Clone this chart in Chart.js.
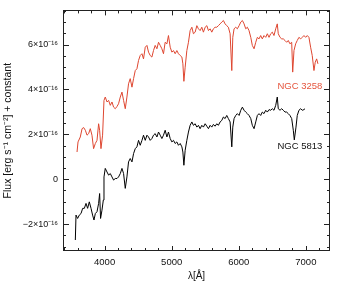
<!DOCTYPE html>
<html>
<head>
<meta charset="utf-8">
<script src="https://cdn.jsdelivr.net/npm/chart.js@4.4.1/dist/chart.umd.min.js"></script>
<style>
  html, body { margin: 0; padding: 0; background: #fff; }
  #wrap { width: 338px; height: 282px; }
</style>
</head>
<body>
<div id="wrap"><canvas id="specChart" width="338" height="282"></canvas></div>
<script>
// wavelengths in Angstrom, flux in units of 1e-16 erg/s/cm2/A (+ constant)
var lamRed = [3589,3604,3638,3664,3688,3713,3738,3762,3787,3812,3836,3862,3887,3911,3926,3946,3970,3991,
  4010,4036,4060,4085,4110,4134,4159,4185,4208,4234,4259,4283,4308,4333,4357,4382,4408,4432,4457,4482,
  4506,4531,4557,4580,4606,4631,4655,4680,4705,4729,4754,4780,4804,4829,4854,4878,4903,4929,4952,4978,
  5003,5027,5052,5077,5101,5127,5152,5167,5182,5201,5226,5250,5275,5301,5324,5350,5375,5399,5424,5449,
  5473,5499,5524,5548,5573,5598,5622,5647,5673,5696,5722,5747,5771,5796,5821,5845,5871,5896,5911,5930,
  5955,5979,6005,6030,6054,6079,6104,6128,6153,6179,6202,6228,6253,6277,6302,6327,6351,6376,6402,6426,
  6451,6476,6500,6525,6551,6574,6589,6615,6640,6664,6689,6714,6738,6763,6789,6804,6823,6848,6872,6897,
  6923,6946,6972,6997,7021,7046,7071,7095,7121,7140,7161,7180];
var fluxRed = [1.21,1.66,1.88,2.25,2.30,2.18,1.96,2.03,2.25,1.96,1.36,1.59,1.73,2.47,2.18,1.36,1.96,3.51,
  3.66,3.44,3.51,3.29,3.44,3.21,3.14,3.24,3.36,3.66,3.88,3.51,3.14,3.66,4.25,4.48,4.10,4.48,4.84,4.92,
  5.29,5.51,5.59,5.36,5.88,5.96,5.66,5.51,5.44,5.73,5.96,5.81,6.10,5.96,5.81,5.59,6.10,6.03,6.40,5.88,
  5.66,5.73,5.59,5.73,5.59,5.51,5.44,5.14,4.36,4.99,5.73,6.10,6.62,6.77,6.48,6.55,6.84,6.70,6.62,6.77,
  6.55,6.77,6.84,6.62,6.70,6.55,6.70,6.77,6.77,6.84,6.92,7.00,7.07,6.92,6.84,6.77,6.48,4.84,6.32,6.70,
  6.77,6.70,6.84,7.00,7.07,6.92,6.70,6.77,6.62,6.32,5.96,5.81,6.10,6.32,6.25,6.40,6.25,6.40,6.32,6.48,
  6.32,6.48,6.55,6.40,6.70,6.92,6.48,6.32,6.25,6.25,6.18,6.10,6.18,6.03,6.10,4.77,5.73,6.03,6.18,6.32,
  6.25,6.32,6.40,6.32,6.40,6.32,5.88,5.51,4.84,5.21,5.36,5.14];

var lamBlack = [3564,3574,3598,3623,3649,3673,3698,3723,3747,3772,3798,3821,3842,3862,3887,3911,3926,3940,
  3961,3981,3991,4010,4036,4060,4085,4110,4134,4159,4185,4208,4234,4259,4283,4308,4333,4357,4382,4408,
  4432,4457,4482,4506,4531,4557,4580,4606,4631,4655,4680,4705,4729,4754,4780,4804,4829,4854,4878,4903,
  4929,4952,4978,5003,5027,5052,5077,5101,5127,5152,5167,5182,5201,5226,5250,5275,5301,5324,5350,5375,
  5399,5424,5449,5473,5499,5524,5548,5573,5598,5622,5647,5673,5696,5722,5747,5771,5796,5821,5845,5871,
  5896,5911,5930,5955,5979,6005,6030,6054,6079,6104,6128,6153,6179,6202,6228,6253,6277,6302,6327,6351,
  6376,6402,6426,6451,6476,6500,6525,6551,6574,6589,6615,6640,6664,6689,6714,6738,6763,6789,6813,6828,
  6853,6872,6897,6923,6946,6972,6987];
var fluxBlack = [-2.71,-1.60,-1.75,-1.60,-1.53,-1.30,-1.30,-1.08,-1.30,-1.01,-1.30,-1.60,-1.82,-1.53,-1.45,
  -1.08,-0.64,-1.75,-1.38,-0.93,0.10,0.48,0.32,0.18,0.25,0.10,-0.04,0.03,0.03,0.10,0.25,0.48,0.25,-0.41,
  0.10,0.77,0.92,0.77,1.14,1.36,1.44,1.73,1.51,1.73,1.96,1.73,1.96,1.88,1.73,1.81,1.96,2.03,1.88,2.10,
  1.96,1.81,1.96,2.18,1.88,2.10,1.81,1.66,1.73,1.59,1.66,1.51,1.59,1.44,1.21,0.62,1.29,1.73,2.10,2.40,
  2.55,2.40,2.47,2.32,2.40,2.25,2.40,2.32,2.47,2.36,2.25,2.40,2.32,2.44,2.36,2.47,2.40,2.55,2.62,2.77,
  2.70,2.84,2.70,2.55,1.44,2.32,2.70,2.84,2.92,2.84,3.07,3.21,3.07,2.99,2.92,2.84,2.70,2.40,2.25,2.55,
  2.84,2.92,2.84,2.99,2.92,3.07,2.99,3.10,3.07,3.14,3.07,3.29,3.66,3.14,3.07,3.14,3.07,2.99,2.99,2.92,
  2.84,2.70,2.18,1.75,2.32,2.84,3.07,3.14,3.07,3.10,3.14];

var xTicks = [4000, 5000, 6000, 7000];
var yTicks = [-2, 0, 2, 4, 6];
var galaxyNames = ['NGC 3258', 'NGC 5813'];

var RED = '#de4630';
var FONT = "'Liberation Sans', Arial, sans-serif";

function pts(lam, flux) {
  return lam.map(function (l, i) { return { x: l, y: flux[i] }; });
}

function yLabel(v) {
  if (v === 0) return '0';
  return (v < 0 ? '\u2212' : '') + Math.abs(v) + '\u00d710\u207b\u00b9\u2076';
}

// box frame with inward ticks on all four sides + curve labels
var frameTicks = {
  id: 'frameTicks',
  afterDraw: function (chart) {
    var ctx = chart.ctx, a = chart.chartArea;
    var sx = chart.scales.x, sy = chart.scales.y;
    ctx.save();
    ctx.strokeStyle = '#222';
    ctx.lineWidth = 1;
    ctx.strokeRect(Math.round(a.left) + 0.5, Math.round(a.top) + 0.5,
      Math.round(a.right - a.left) - 1, Math.round(a.bottom - a.top) - 1);
    ctx.beginPath();
    for (var v = 3400; v <= sx.max; v += 200) {
      var px = Math.round(sx.getPixelForValue(v)) + 0.5;
      var len = (v % 1000 === 0) ? 5 : 3;
      ctx.moveTo(px, a.bottom); ctx.lineTo(px, a.bottom - len);
      ctx.moveTo(px, a.top); ctx.lineTo(px, a.top + len);
    }
    for (var w = -3; w <= sy.max; w += 0.5) {
      var py = Math.round(sy.getPixelForValue(w)) + 0.5;
      var l2 = (Math.abs(w % 2) < 1e-9) ? 6 : 3;
      ctx.moveTo(a.left, py); ctx.lineTo(a.left + l2, py);
      ctx.moveTo(a.right, py); ctx.lineTo(a.right - l2, py);
    }
    ctx.stroke();

    ctx.font = '9.5px ' + FONT;
    ctx.textAlign = 'right';
    ctx.textBaseline = 'middle';
    ctx.fillStyle = '#e5553e';
    ctx.fillText(galaxyNames[0], sx.getPixelForValue(7245), sy.getPixelForValue(4.13));
    ctx.fillStyle = '#111';
    ctx.fillText(galaxyNames[1], sx.getPixelForValue(7245), sy.getPixelForValue(1.47));
    ctx.restore();
  }
};

new Chart(document.getElementById('specChart'), {
  type: 'scatter',
  data: {
    datasets: [
      { label: galaxyNames[0], data: pts(lamRed, fluxRed), showLine: true, borderColor: RED,
        borderWidth: 1, pointRadius: 0, tension: 0 },
      { label: galaxyNames[1], data: pts(lamBlack, fluxBlack), showLine: true, borderColor: '#000',
        borderWidth: 1, pointRadius: 0, tension: 0 }
    ]
  },
  options: {
    responsive: false,
    animation: false,
    layout: { padding: { top: 9, right: 8, left: 0, bottom: 0 } },
    plugins: { legend: { display: false }, tooltip: { enabled: false } },
    scales: {
      x: {
        type: 'linear', min: 3380, max: 7360,
        grid: { display: false, drawTicks: false },
        border: { display: false },
        afterBuildTicks: function (s) { s.ticks = xTicks.map(function (v) { return { value: v }; }); },
        afterFit: function (s) { s.height = 31; },
        ticks: { color: '#111', padding: 6, font: { family: FONT, size: 9.5 }, maxRotation: 0,
          callback: function (v) { return String(v); } },
        title: { display: true, text: '\u03bb[\u00c5]', color: '#111', padding: { top: 0, bottom: 0 },
          font: { family: FONT, size: 10 } }
      },
      y: {
        type: 'linear', min: -3.2, max: 7.52,
        grid: { display: false, drawTicks: false },
        border: { display: false },
        afterBuildTicks: function (s) { s.ticks = yTicks.map(function (v) { return { value: v }; }); },
        afterFit: function (s) { s.width = 63; },
        ticks: { color: '#111', padding: 5, font: { family: FONT, size: 9 }, callback: yLabel },
        title: { display: true, text: 'Flux [erg s\u207b\u00b9 cm\u207b\u00b2] + constant', color: '#111',
          padding: { top: 2, bottom: 0 }, font: { family: FONT, size: 10.5 } }
      }
    }
  },
  plugins: [frameTicks]
});
</script>
</body>
</html>
